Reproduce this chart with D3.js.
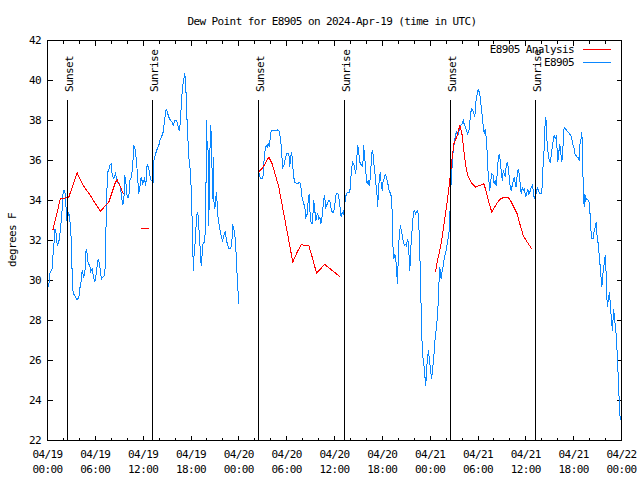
<!DOCTYPE html>
<html><head><meta charset="utf-8">
<script src="https://cdn.jsdelivr.net/npm/d3@7"></script>
<style>
body{margin:0;background:#fff}
svg text{font-family:"DejaVu Sans Mono",monospace;font-size:11px;letter-spacing:-0.6px;fill:#000}
</style></head><body>
<svg id="c" width="640" height="480"></svg>
<script>
const title = "Dew Point for E8905 on 2024-Apr-19 (time in UTC)";
const yLabel = "degrees F";
const seriesNames = ["E8905 Analysis", "E8905"];
const seriesColors = ["#ff0000", "#0a87ff"];
const yTicks = [22,24,26,28,30,32,34,36,38,40,42];
const xTickHours = [0,6,12,18,24,30,36,42,48,54,60,66,72];
const xTickDates = ["04/19","04/19","04/19","04/19","04/20","04/20","04/20","04/20","04/21","04/21","04/21","04/21","04/22"];
const xTickTimes = ["00:00","06:00","12:00","18:00","00:00","06:00","12:00","18:00","00:00","06:00","12:00","18:00","00:00"];
const xMinorHours = [2,4,8,10,14,16,20,22,26,28,32,34,38,40,44,46,50,52,56,58,62,64,68,70];
const sunsetHours = [2.5, 26.5, 50.6];
const sunriseHours = [13.23, 37.3, 61.25];

const analysisHours = [0.66,0.92,1.22,1.5,1.63,2.67,3.73,4.14,4.77,5.39,6.02,6.65,7.69,8.53,8.74,9.16,9.5,10.5,11.67,12.71,20,
26.5,27.05,27.76,28.19,28.6,29.01,29.64,30.27,30.77,31.32,31.82,32.78,33.2,33.74,34.78,36.67,42,
48.67,48.88,49.21,49.51,49.92,50.21,50.46,50.77,50.97,51.39,51.72,51.89,52.02,52.22,52.43,52.72,53.27,53.69,54.19,54.73,54.94,55.36,55.73,56.2,56.61,56.82,57.33,57.74,58.08,58.49,58.92,59.25,59.67,60.17,60.59,60.8];
const analysisValues = [32.5,32.92,33.42,33.92,34.08,34.17,35.38,35.0,34.58,34.25,33.83,33.47,33.92,34.92,35.03,34.67,34.33,null,32.58,32.58,null,
35.42,35.67,36.17,35.83,35.25,34.67,33.33,32.0,30.92,31.42,31.78,31.75,31.17,30.38,30.8,30.2,null,
30.42,30.92,31.5,32.17,33.33,34.17,35.0,36.17,36.83,37.25,37.75,37.5,37.25,36.5,35.83,35.25,34.83,34.67,34.75,34.83,34.58,33.92,33.42,33.75,34.0,34.08,34.17,34.17,34.0,33.67,33.33,32.83,32.25,31.92,31.67,31.55];

const obsHours = [0.16,0.25,0.59,0.66,0.79,0.92,1.09,1.22,1.42,1.63,1.72,1.84,1.97,2.17,2.26,2.38,2.47,2.55,2.67,2.8,2.89,3.01,3.1,3.22,3.43,3.72,3.93,4.05,4.26,4.35,4.55,4.68,4.85,4.98,5.1,5.31,5.39,5.6,5.73,5.93,6.11,6.23,6.36,6.52,6.65,6.77,6.94,7.19,7.28,7.4,7.53,7.69,7.81,7.99,8.12,8.32,8.53,8.74,8.94,9.16,9.28,9.45,9.57,9.7,9.87,10.0,10.2,10.32,10.54,10.7,10.83,11.04,11.25,11.45,11.58,11.75,11.96,12.17,12.33,12.5,12.71,12.92,13.17,13.25,
13.33,13.55,13.76,13.96,14.09,14.3,14.51,14.68,14.89,15.02,15.22,15.43,15.64,15.77,15.97,16.18,16.35,16.52,16.68,16.81,16.97,17.1,17.22,17.35,17.52,17.72,17.94,18.06,18.23,18.28,18.35,18.48,18.65,18.78,18.9,19.03,19.19,19.28,19.4,19.53,19.73,19.86,19.94,20.03,20.16,20.23,20.36,20.45,20.57,20.7,20.79,20.86,20.99,21.11,21.2,21.36,21.54,21.7,21.83,21.95,22.12,22.29,22.45,22.62,22.79,22.96,23.12,23.21,23.33,23.46,23.58,23.71,23.8,23.92,24.0,25.0,
26.5,26.72,27.01,27.13,27.26,27.43,27.56,27.68,27.85,27.97,28.1,28.6,28.81,29.01,29.14,29.31,29.44,29.52,29.73,29.85,30.07,30.27,30.39,30.48,30.61,30.73,30.82,30.98,31.32,31.65,31.82,31.95,32.15,32.28,32.4,32.58,32.7,32.83,32.95,33.08,33.2,33.33,33.4,33.53,33.66,33.78,33.91,34.03,34.16,34.28,34.41,34.53,34.62,34.75,34.91,35.09,35.25,35.41,35.59,35.71,35.91,36.09,36.21,36.42,36.54,36.67,36.84,36.97,37.09,37.26,37.38,37.59,37.92,
38.0,38.13,38.26,38.42,38.55,38.67,38.76,38.85,38.92,39.05,39.18,39.35,39.48,39.55,39.64,39.76,39.89,40.02,40.1,40.23,40.35,40.48,40.6,40.73,40.86,40.98,41.11,41.23,41.36,41.43,41.52,41.65,41.73,41.86,41.98,42.11,42.24,42.36,42.49,42.61,42.74,42.86,43.03,43.15,43.24,43.31,43.44,43.57,43.69,43.78,43.9,44.03,44.15,44.28,44.41,44.53,44.7,44.82,44.95,45.03,45.12,45.2,45.32,45.45,45.53,45.66,45.79,45.91,46.04,46.16,46.29,46.41,46.54,46.66,46.79,46.91,47.04,47.2,47.33,47.45,47.54,47.67,47.79,47.92,48.04,48.17,48.29,48.42,48.54,48.67,48.8,48.96,49.08,49.21,
49.38,49.51,49.64,49.8,50.01,50.21,50.39,50.46,50.55,50.64,50.77,50.89,51.05,51.18,51.3,51.47,51.64,51.81,52.02,52.15,52.31,52.43,52.56,52.72,52.9,53.06,53.19,53.35,53.48,53.6,53.73,53.9,54.03,54.15,54.28,54.4,54.53,54.65,54.78,54.9,55.03,55.15,55.23,55.36,55.48,55.61,55.73,55.91,56.03,56.16,56.28,56.41,56.54,56.66,56.79,56.91,57.04,57.17,57.29,57.42,57.54,57.67,57.79,57.92,58.04,58.17,58.29,58.42,58.54,58.67,58.79,58.92,59.04,59.17,59.29,59.42,59.55,59.67,59.83,59.96,60.09,60.25,60.38,60.5,60.68,60.8,60.93,61.05,61.18,
61.34,61.46,61.59,61.72,61.97,62.05,62.13,62.22,62.3,62.38,62.51,62.59,62.68,62.81,62.93,63.06,63.18,63.31,63.43,63.56,63.69,63.81,63.94,64.01,64.14,64.26,64.39,64.51,64.64,64.73,64.81,64.98,65.14,65.32,65.48,65.64,65.82,65.94,66.07,66.19,66.32,66.44,66.57,66.7,66.82,66.95,67.02,67.11,67.2,67.32,67.4,67.52,67.65,67.9,68.02,68.15,68.28,68.45,68.58,68.7,68.83,68.9,69.03,69.15,69.28,69.4,69.53,69.62,69.74,69.83,69.96,70.03,70.12,70.25,70.37,70.5,70.62,70.75,70.87,71.0,71.12,71.25,71.37,71.46,71.59,71.71,71.84];
const obsValues = [29.67,30.33,30.58,31.17,31.67,32.58,32.33,31.75,31.92,32.58,33.0,33.58,34.5,34.5,34.0,33.33,32.83,33.17,33.42,33.0,32.67,31.75,30.17,29.33,29.25,29.03,29.17,29.58,30.08,30.5,30.17,30.33,31.58,31.33,30.83,30.75,30.42,30.58,30.25,29.92,30.33,30.75,31.08,30.83,30.42,30.08,30.17,30.25,31.5,33.83,35.42,35.5,35.75,35.83,35.25,35.08,35.33,34.92,34.92,34.67,34.17,33.83,33.92,35.25,34.75,34.17,34.17,35.0,35.17,35.83,36.75,36.5,35.5,34.33,34.67,35.17,34.83,35.08,34.75,35.83,35.58,35.08,34.92,34.92,
36.0,36.33,36.58,36.75,37.0,37.17,37.42,38.0,38.58,38.42,38.17,38.0,37.92,37.75,38.0,38.0,37.75,37.5,37.92,39.08,39.75,40.08,40.37,39.67,37.83,36.17,35.42,34.17,31.75,30.5,31.08,31.67,32.83,33.42,33.25,32.33,31.33,30.75,31.33,31.92,31.92,33.5,38.0,36.67,36.5,32.75,36.17,37.75,37.17,34.08,36.17,34.0,33.58,34.17,34.42,33.25,32.75,32.42,32.17,32.0,32.25,32.42,32.0,31.75,31.58,31.58,31.83,32.75,32.67,32.42,31.92,30.92,30.08,29.33,28.83,null,
35.42,35.08,35.08,35.83,36.42,36.75,36.67,36.83,36.67,37.33,37.5,37.5,37.53,37.5,37.33,36.75,36.0,35.67,35.83,36.17,36.37,36.37,35.67,36.17,36.42,36.0,35.42,34.92,34.83,34.92,34.58,34.08,33.83,33.67,33.17,33.33,34.0,34.33,33.25,32.83,32.83,33.5,34.0,33.5,33.0,33.25,33.33,33.08,33.17,32.83,33.08,33.5,34.0,34.25,33.67,33.83,34.0,34.0,33.58,33.42,33.42,33.92,34.37,34.37,34.17,33.75,33.17,33.42,33.33,33.67,34.17,34.42,34.42,
34.83,35.53,35.92,35.83,35.58,35.33,35.92,36.42,36.75,36.33,35.92,35.75,35.83,35.67,36.75,36.33,35.67,35.0,34.83,35.0,34.75,35.08,35.83,36.53,36.25,35.67,35.25,34.67,34.17,33.67,34.75,35.0,35.42,34.83,34.5,35.0,35.08,35.33,35.17,35.0,34.75,34.5,34.33,34.17,33.33,31.83,31.08,31.33,31.08,30.5,29.83,31.5,32.5,32.67,32.5,32.17,31.83,31.75,31.83,31.67,32.0,32.08,31.5,30.5,31.33,32.17,32.83,33.42,33.5,33.33,33.42,33.5,33.25,31.83,30.17,27.67,26.33,25.83,25.25,24.75,25.5,26.17,26.5,26.0,25.58,25.08,25.5,26.0,26.67,27.33,27.67,28.5,29.67,30.67,
30.08,30.5,30.75,31.17,31.5,32.0,32.5,33.17,34.17,35.0,35.83,36.5,36.92,37.33,37.42,37.25,37.5,37.75,37.83,38.0,37.75,37.67,37.5,37.33,37.58,38.33,38.58,38.5,38.33,38.17,38.92,39.33,39.58,39.42,39.17,38.67,38.25,37.75,37.33,37.58,37.17,36.42,35.58,35.0,34.5,35.0,35.33,35.25,34.83,35.0,34.75,35.33,36.08,36.33,36.0,35.5,35.0,35.5,35.33,35.17,35.75,35.92,35.67,35.17,34.67,34.5,34.75,35.0,35.17,34.83,34.67,35.33,35.58,35.33,34.83,34.33,34.67,34.5,34.58,34.17,34.33,34.58,34.33,34.42,34.67,34.75,34.5,34.08,34.25,
34.42,34.67,34.5,34.33,34.33,34.75,35.5,36.17,36.58,37.58,38.17,37.67,36.75,36.33,36.0,35.92,36.25,36.67,37.0,37.25,37.08,37.17,36.5,35.92,36.42,36.83,36.33,35.92,36.5,37.25,37.67,37.58,37.5,37.42,37.33,37.25,37.0,36.75,36.58,36.25,36.25,36.17,36.17,36.0,37.0,37.08,37.42,36.5,34.58,33.67,34.33,34.0,34.08,34.0,33.58,32.58,32.08,32.08,32.5,32.67,32.92,32.33,32.0,31.5,30.92,30.33,29.67,30.08,30.67,30.83,31.25,31.0,29.33,28.67,29.17,29.42,28.67,28.0,27.5,28.58,28.17,27.58,27.17,26.33,25.17,24.0,23.0];

const svg = d3.select("#c");
const L = 47, R = 621, T = 40, B = 440;
const t0 = Date.UTC(2024, 3, 19);
const hr = h => new Date(t0 + h * 3600000);
const x = d3.scaleUtc().domain([hr(0), hr(72)]).range([L, R]);
const y = d3.scaleLinear().domain([22, 42]).range([B, T]);

svg.append("rect").attr("width", 640).attr("height", 480).attr("fill", "#fff");

svg.append("defs").append("clipPath").attr("id", "clip")
  .append("rect").attr("x", L).attr("y", T).attr("width", R - L + 1).attr("height", B - T + 1);

const g = svg.append("g").attr("transform", "translate(0.5,0.5)");

// ticks
const tk = g.append("g").attr("stroke", "#000").attr("shape-rendering", "crispEdges");
yTicks.forEach(v => {
  const yy = Math.round(y(v));
  tk.append("line").attr("x1", L).attr("x2", L + 5).attr("y1", yy).attr("y2", yy);
  tk.append("line").attr("x1", R).attr("x2", R - 5).attr("y1", yy).attr("y2", yy);
});
xTickHours.forEach(h => {
  const xx = Math.round(x(hr(h)));
  tk.append("line").attr("x1", xx).attr("x2", xx).attr("y1", B).attr("y2", B - 5);
  tk.append("line").attr("x1", xx).attr("x2", xx).attr("y1", T).attr("y2", T + 5);
});
xMinorHours.forEach(h => {
  const xx = Math.round(x(hr(h)));
  tk.append("line").attr("x1", xx).attr("x2", xx).attr("y1", B).attr("y2", B - 3);
  tk.append("line").attr("x1", xx).attr("x2", xx).attr("y1", T).attr("y2", T + 3);
});

// data lines
const mk = (hs, vs) => hs.map((h, i) => ({t: hr(h), v: vs[i]}));
const line = d3.line().defined(d => d.v !== null).x(d => x(d.t)).y(d => y(d.v));
const plot = g.append("g").attr("clip-path", "url(#clip)");
plot.append("path").datum(mk(obsHours, obsValues)).attr("d", line)
  .attr("fill", "none").attr("stroke", seriesColors[1]).attr("stroke-width", 1)
  .attr("shape-rendering", "crispEdges");
plot.append("path").datum(mk(analysisHours, analysisValues)).attr("d", line)
  .attr("fill", "none").attr("stroke", seriesColors[0]).attr("stroke-width", 1)
  .attr("shape-rendering", "crispEdges");

// border
g.append("rect").attr("x", L).attr("y", T).attr("width", R - L).attr("height", B - T)
  .attr("fill", "none").attr("stroke", "#000").attr("shape-rendering", "crispEdges");

// sun lines
const sun = [...sunsetHours.map(h => ({h, n: "Sunset"})), ...sunriseHours.map(h => ({h, n: "Sunrise"}))];
sun.forEach(s => {
  const xx = Math.round(x(hr(s.h)));
  g.append("line").attr("x1", xx).attr("x2", xx).attr("y1", 99).attr("y2", B)
    .attr("stroke", "#000").attr("shape-rendering", "crispEdges");
  svg.append("text").attr("transform", `translate(${xx + 5.5},92) rotate(-90)`)
    .attr("text-anchor", "start").text(s.n);
});

// axis labels
yTicks.forEach(v => {
  svg.append("text").attr("x", 41).attr("y", y(v) + 4).attr("text-anchor", "end").text(v);
});
xTickHours.forEach((h, i) => {
  const xx = x(hr(h)) + 0.5;
  svg.append("text").attr("x", xx).attr("y", 458).attr("text-anchor", "middle").text(xTickDates[i]);
  svg.append("text").attr("x", xx).attr("y", 473).attr("text-anchor", "middle").text(xTickTimes[i]);
});
svg.append("text").attr("x", 332).attr("y", 24.5).attr("text-anchor", "middle").text(title);
svg.append("text").attr("transform", "translate(16,240) rotate(-90)").attr("text-anchor", "middle").text(yLabel);

// legend
seriesNames.forEach((n, i) => {
  const yy = 49 + i * 13;
  svg.append("text").attr("x", 574).attr("y", yy + 4).attr("text-anchor", "end").text(n);
  g.append("line").attr("x1", 582).attr("x2", 610).attr("y1", yy).attr("y2", yy)
    .attr("stroke", seriesColors[i]).attr("shape-rendering", "crispEdges");
});
</script>
</body></html>
